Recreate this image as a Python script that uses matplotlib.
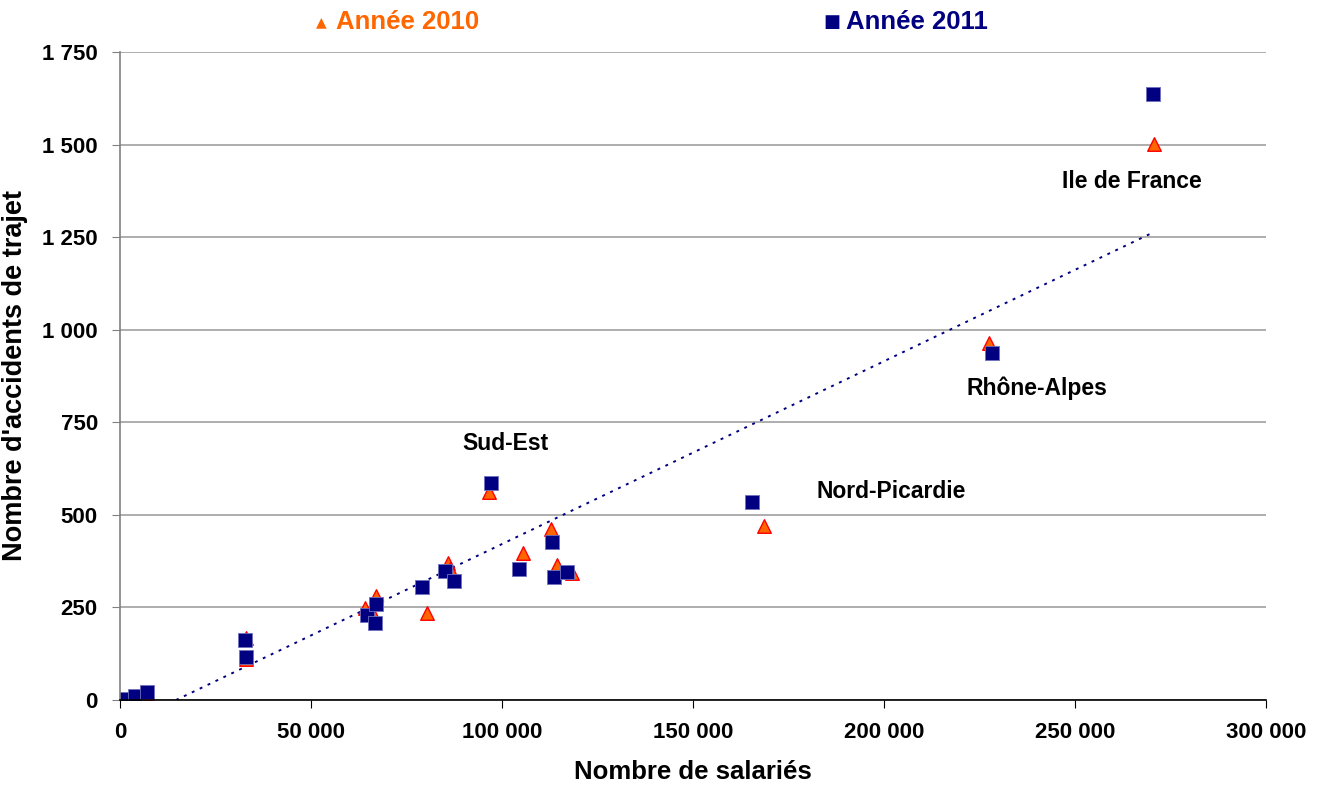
import numpy as np
import matplotlib
matplotlib.use('Agg')
import matplotlib.pyplot as plt
from matplotlib.ticker import FuncFormatter

plt.rcParams['font.family'] = ['Liberation Sans', 'DejaVu Sans']
plt.rcParams['font.weight'] = 'bold'

# Année 2010 (triangles)
sal_2010 = [2000, 3900, 7000, 33000, 33000, 64100, 66300, 67000, 80300, 85800, 86500,
            96500, 105400, 112900, 114500, 118200, 168600, 227600, 270800]
acc_2010 = [3, 6, 20, 168, 110, 249, 232, 281, 236, 369, 355,
            563, 396, 461, 365, 342, 471, 963, 1501]

# Année 2011 (carrés)
sal_2011 = [1200, 3800, 7100, 32700, 33000, 64600, 66700, 67000, 79100, 85100, 87400,
            97000, 104400, 113000, 113700, 116900, 165500, 228200, 270300]
acc_2011 = [3, 12, 22, 162, 116, 229, 207, 259, 305, 349, 322,
            587, 354, 427, 333, 345, 536, 936, 1637]

# courbe de tendance
tend_pente = 0.004936
tend_origine = -72.4
tend_x = [14660, 270000]

etiquettes = ['Ile de France', 'Rhône-Alpes', 'Nord-Picardie', 'Sud-Est']
etiq_x = [265000, 240000, 202000, 101000]
etiq_y = [1401, 842, 562, 693]

fig = plt.figure(figsize=(13.22, 7.89), dpi=100)
ax = fig.add_axes([0.0908, 0.1128, 0.8668, 0.8213])

tx = np.array(tend_x)
ax.plot(tx, tend_pente * tx + tend_origine, color='#000080', lw=1.4,
        linestyle=(0, (1.5, 3)), zorder=2)

ax.scatter(sal_2010, acc_2010, marker='^', s=95, color='#FF6600',
           edgecolors='#FF0000', linewidths=1.0, zorder=3)
ax.scatter(sal_2011, acc_2011, marker='s', s=110, color='#000080',
           edgecolors='#7070C0', linewidths=0.6, zorder=4)

for t, x, y in zip(etiquettes, etiq_x, etiq_y):
    ax.text(x, y, t, fontsize=16.5, fontweight='bold', ha='center', va='center')

ax.set_xlim(0, 300000)
ax.set_ylim(0, 1750)
ax.set_xticks(range(0, 300001, 50000))
ax.set_yticks(range(0, 1751, 250))
fmt = FuncFormatter(lambda v, p: f'{int(v):,}'.replace(',', ' '))
ax.xaxis.set_major_formatter(fmt)
ax.yaxis.set_major_formatter(fmt)
ax.tick_params(axis='both', labelsize=16, direction='out', length=6)
ax.tick_params(axis='x', colors='black', pad=10)
ax.tick_params(axis='y', color='#808080', labelcolor='black', pad=10)
for lab in ax.get_xticklabels() + ax.get_yticklabels():
    lab.set_fontweight('bold')

ax.grid(axis='y', color='#A0A0A0', lw=1.2)
ax.set_axisbelow(True)
ax.spines['top'].set_visible(False)
ax.spines['right'].set_visible(False)
ax.spines['left'].set_color('#808080')
ax.spines['left'].set_linewidth(1.2)
ax.spines['bottom'].set_color('black')
ax.spines['bottom'].set_linewidth(1.2)
ax.spines['left'].set_zorder(5)
ax.spines['bottom'].set_zorder(5)

ax.set_xlabel('Nombre de salariés', fontsize=18.5, fontweight='bold', labelpad=12)
ax.set_ylabel("Nombre d'accidents de trajet", fontsize=19.5, fontweight='bold', labelpad=10)

# légende en haut
fig.text(0.2428, 0.972, '▲', color='#FF6600', fontsize=10, ha='center', va='center',
         family=['DejaVu Sans'])
fig.text(0.254, 0.972, 'Année 2010', color='#FF6600', fontsize=18.5, fontweight='bold',
         ha='left', va='center')
fig.text(0.629, 0.972, '■', color='#000080', fontsize=13, ha='center', va='center',
         family=['DejaVu Sans'])
fig.text(0.640, 0.972, 'Année 2011', color='#000080', fontsize=18.5, fontweight='bold',
         ha='left', va='center')

fig.savefig('out.png', dpi=100)
